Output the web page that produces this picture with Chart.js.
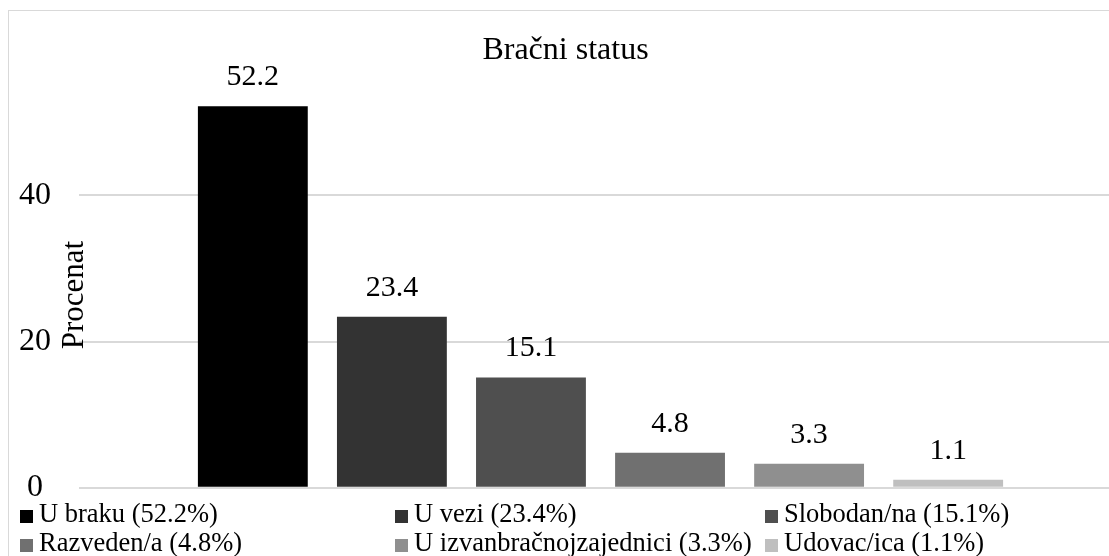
<!DOCTYPE html>
<html>
<head>
<meta charset="utf-8">
<script src="https://cdn.jsdelivr.net/npm/chart.js@4/dist/chart.umd.min.js"></script>
<style>
  body { margin: 0; overflow: hidden; background: #fff; }
  #frame { position: absolute; left: 8px; top: 10px; width: 1130px; height: 570px; border: 1px solid #d9d9d9; }
  #chart { position: absolute; left: 0; top: 0; }
  #legend { position: absolute; left: 11px; top: 488px; display: grid; grid-template-columns: 375px 370px auto;
    font-family: 'Liberation Serif', 'Times New Roman', serif; font-size: 26.5px; line-height: 29px; color: #000; white-space: nowrap; }
  #legend .box { display: inline-block; width: 13px; height: 13px; margin-right: 6px; vertical-align: -1px; }
</style>
</head>
<body>
<div id="frame">
  <canvas id="chart" width="1113" height="524"></canvas>
  <div id="legend"></div>
</div>
<script>
let categories = ['U braku', 'U vezi', 'Slobodan/na', 'Razveden/a', 'U izvanbračnojzajednici', 'Udovac/ica'];
let values = [52.2, 23.4, 15.1, 4.8, 3.3, 1.1];
let colors = ['#000000', '#333333', '#4f4f4f', '#707070', '#8f8f8f', '#bfbfbf'];
let yTicks = [0, 20, 40];
let chartTitle = 'Bračni status';
let yTitle = 'Procenat';

let serif = "'Liberation Serif', 'Times New Roman', serif";
Chart.defaults.font.family = serif;
Chart.defaults.color = '#000';

// value labels above bars + rotated axis title
let labelsPlugin = {
  id: 'barLabels',
  afterDatasetsDraw(chart) {
    let ctx = chart.ctx;
    ctx.save();
    ctx.fillStyle = '#000';
    ctx.font = '30px ' + serif;
    ctx.textAlign = 'center';
    ctx.textBaseline = 'middle';
    chart.data.datasets.forEach((ds, i) => {
      let bar = chart.getDatasetMeta(i).data[0];
      ctx.fillText(String(ds.data[0]), bar.x, bar.y - 29);
    });
    ctx.translate(chart.chartArea.left - 4.5, 284);
    ctx.rotate(-Math.PI / 2);
    ctx.font = '31px ' + serif;
    ctx.fillText(yTitle, 0, 0);
    ctx.restore();
  }
};

let datasets = [];
for (let i = 0; i < categories.length; i++) {
  datasets.push({
    label: categories[i],
    data: [values[i]],
    backgroundColor: colors[i],
    categoryPercentage: 0.8,
    barPercentage: 0.79
  });
}

let ctx = document.getElementById('chart').getContext('2d');
let myChart = new Chart(ctx, {
  type: 'bar',
  data: { labels: [chartTitle], datasets: datasets },
  options: {
    responsive: false,
    animation: false,
    layout: { padding: { left: 0, right: 0, top: 0, bottom: 0 } },
    scales: {
      x: { display: false },
      y: {
        min: 0,
        max: 56.7,
        afterBuildTicks(scale) {
          scale.ticks = yTicks.map(v => ({ value: v }));
        },
        afterFit(scale) { scale.width = 70; },
        border: { display: false },
        grid: { color: '#d9d9d9', lineWidth: 2, drawTicks: false },
        ticks: { font: { size: 32 }, padding: 28, crossAlign: 'center', color: '#000' }
      }
    },
    plugins: {
      legend: { display: false },
      tooltip: { enabled: false },
      title: {
        display: true,
        text: chartTitle,
        color: '#000',
        font: { size: 32, weight: 'normal' },
        padding: { top: 20, bottom: 4 }
      }
    }
  },
  plugins: [labelsPlugin]
});

// legend in three columns like the original
let legend = document.getElementById('legend');
for (let i = 0; i < categories.length; i++) {
  let item = document.createElement('div');
  let box = document.createElement('span');
  box.className = 'box';
  box.style.background = colors[i];
  item.appendChild(box);
  item.appendChild(document.createTextNode(categories[i] + ' (' + values[i] + '%)'));
  legend.appendChild(item);
}
</script>
</body>
</html>
